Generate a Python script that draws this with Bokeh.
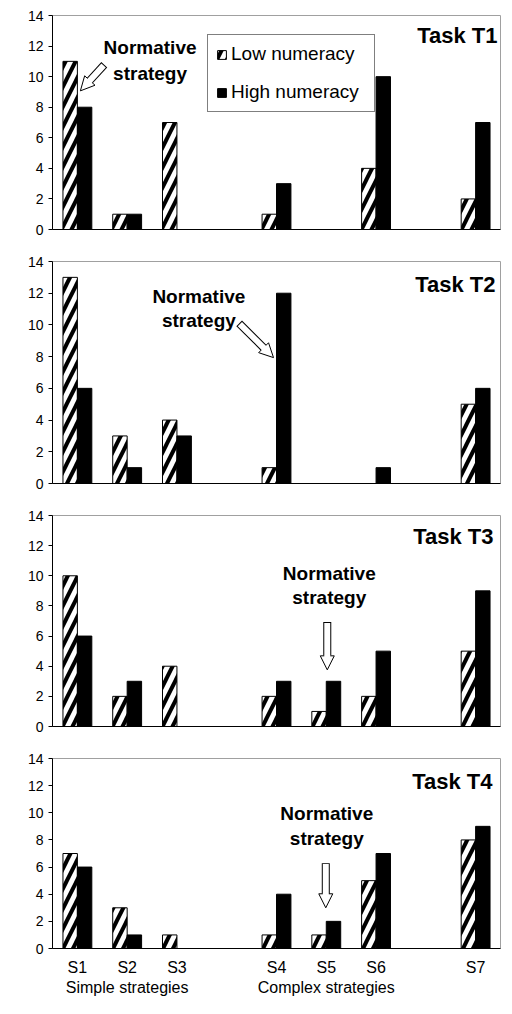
import math
from bokeh.plotting import figure
from bokeh.models import (FactorRange, Range1d, Label, Arrow, NormalHead, Legend,
                          LegendItem, ColumnDataSource, FixedTicker, CategoricalAxis)
from bokeh.layouts import column
from bokeh.transform import dodge
from bokeh.embed import file_html
from bokeh.resources import INLINE

# ---------------- data ----------------
strategies = ["S1", "S2", "S3", "S4", "S5", "S6", "S7"]
slots = ["S1", "S2", "S3", " ", "S4", "S5", "S6", "  ", "S7"]
group_slots = [" ", "Simple strategies", "  ", "   ", "    ", "Complex strategies",
               "     ", "      ", "       "]
tasks = ["Task T1", "Task T2", "Task T3", "Task T4"]
series_names = ["Low numeracy", "High numeracy"]

low_t1 = [11, 1, 7, 1, 0, 4, 2]
high_t1 = [8, 1, 0, 3, 0, 10, 7]
low_t2 = [13, 3, 4, 1, 0, 0, 5]
high_t2 = [6, 1, 3, 12, 0, 1, 6]
low_t3 = [10, 2, 4, 2, 1, 2, 5]
high_t3 = [6, 3, 0, 3, 3, 5, 9]
low_t4 = [7, 3, 1, 1, 1, 5, 8]
high_t4 = [6, 1, 0, 4, 2, 7, 9]

lows = [low_t1, low_t2, low_t3, low_t4]
highs = [high_t1, high_t2, high_t3, high_t4]

y_ticks = [0, 2, 4, 6, 8, 10, 12, 14]
note_lines = ["Normative", "strategy"]

# ---------------- layout / styling ----------------
FONT = "Liberation Sans"
W = 504
# (border_left, border_right, border_top, frame_height, border_bottom)
geom = [
    (43, 1, 15, 214, 16),
    (45, 1, 16, 222, 16),
    (42, 2, 16, 211, 16),
    (52, 4, 16, 194, 46),
]
note_text_pos = [(1.96, 11.9, 10.2), (2.94, 11.8, 10.25), (5.56, 10.17, 8.59), (5.51, 9.93, 8.14)]
arrow_pos = [((1.04, 10.78), (0.56, 9.07)),
             ((3.75, 10.1), (4.44, 7.94)),
             ((5.52, 6.94), (5.52, 3.76)),
             ((5.49, 6.29), (5.49, 3.0))]
title_off = [(-3, -7), (-5, -10), (-7, -8), (-8, -10)]

BAR_W = 0.29


def block_arrow(p, x0, y0, x1, y1, kx, ky, head=14, shaft=8):
    dxp = (x1 - x0) * kx
    dyp = (y1 - y0) * ky
    L = math.hypot(dxp, dyp)
    ux, uy = dxp / L, dyp / L
    bx = x1 - ux * head / kx
    by = y1 - uy * head / ky
    p.add_layout(Arrow(end=None, x_start=x0, y_start=y0, x_end=bx, y_end=by,
                       line_width=shaft, line_color="black"))
    p.add_layout(Arrow(end=NormalHead(size=head, fill_color="white", line_color="black",
                                      line_width=1),
                       x_start=bx, y_start=by, x_end=x1, y_end=y1, line_alpha=0))
    sx = x0 + ux * 1.0 / kx
    sy = y0 + uy * 1.0 / ky
    ex = bx + ux * 1.5 / kx
    ey = by + uy * 1.5 / ky
    p.add_layout(Arrow(end=None, x_start=sx, y_start=sy, x_end=ex, y_end=ey,
                       line_width=shaft - 2, line_color="white"))


figs = []
for i in range(4):
    bl, br, bt, fh, bb = geom[i]
    H = bt + fh + bb
    last = (i == 3)
    p = figure(width=W, height=H, output_backend="svg", toolbar_location=None,
               x_range=FactorRange(factors=slots, range_padding=0, factor_padding=0),
               y_range=Range1d(0, 14),
               min_border_left=bl, min_border_right=br, min_border_top=bt,
               min_border_bottom=bb)
    p.outline_line_color = "#a0a0a0"
    p.xgrid.visible = False
    p.ygrid.visible = False
    p.background_fill_color = "white"
    p.border_fill_color = "white"

    src = ColumnDataSource(dict(s=strategies, low=lows[i], high=highs[i]))
    r_low = p.vbar(x=dodge("s", -BAR_W / 2, range=p.x_range), top="low", bottom=0,
                   width=BAR_W, source=src, fill_color="white", line_color="black",
                   line_width=1, hatch_pattern="/", hatch_color="black",
                   hatch_weight=4, hatch_scale=20)
    r_high = p.vbar(x=dodge("s", BAR_W / 2, range=p.x_range), top="high", bottom=0,
                    width=BAR_W, source=src, fill_color="black", line_color="black",
                    line_width=1)

    ya = p.yaxis[0]
    ya.ticker = FixedTicker(ticks=y_ticks)
    ya.axis_line_color = "black"
    ya.major_tick_line_color = "black"
    ya.major_tick_out = 4
    ya.major_tick_in = 0
    ya.minor_tick_line_color = None
    ya.major_label_text_font = FONT
    ya.major_label_text_font_size = "14px"
    ya.major_label_text_color = "black"
    ya.major_label_standoff = 5

    xa = p.xaxis[0]
    xa.axis_line_color = "black"
    xa.major_tick_line_color = None
    xa.major_tick_out = 0
    xa.major_tick_in = 0
    xa.minor_tick_line_color = None
    if last:
        xa.major_label_text_font = FONT
        xa.major_label_text_font_size = "16px"
        xa.major_label_text_color = "black"
        xa.major_label_standoff = 10
        p.extra_x_ranges = {"grp": FactorRange(factors=group_slots, range_padding=0,
                                               factor_padding=0)}
        gax = CategoricalAxis(x_range_name="grp")
        gax.axis_line_color = None
        gax.major_tick_line_color = None
        gax.minor_tick_line_color = None
        gax.major_tick_out = 0
        gax.major_tick_in = 0
        gax.major_label_standoff = 0
        gax.major_label_text_font = FONT
        gax.major_label_text_font_size = "16px"
        gax.major_label_text_color = "black"
        p.add_layout(gax, "below")
    else:
        xa.major_label_text_font_size = "1px"
        xa.major_label_text_color = None
        xa.major_label_standoff = 0

    ox, oy = title_off[i]
    p.add_layout(Label(x=9, y=14, x_offset=ox, y_offset=oy, text=tasks[i],
                       text_align="right", text_baseline="top", text_font=FONT,
                       text_font_style="bold", text_font_size="22px", text_color="black"))

    nx, ny1, ny2 = note_text_pos[i]
    for t, yy in zip(note_lines, (ny1, ny2)):
        p.add_layout(Label(x=nx, y=yy, text=t, text_align="center",
                           text_baseline="middle", text_font=FONT,
                           text_font_style="bold", text_font_size="19px",
                           text_color="black"))
    fw = W - bl - br
    kx = fw / 9.0
    ky = fh / 14.0
    (ax0, ay0), (ax1, ay1) = arrow_pos[i]
    block_arrow(p, ax0, ay0, ax1, ay1, kx, ky, head=14, shaft=8)

    if i == 0:
        leg = Legend(items=[LegendItem(label=series_names[0], renderers=[r_low]),
                            LegendItem(label=series_names[1], renderers=[r_high])],
                     location=(155, 117), orientation="vertical")
        leg.border_line_color = "black"
        leg.border_line_width = 1
        leg.background_fill_color = "white"
        leg.background_fill_alpha = 1
        leg.label_text_font = FONT
        leg.label_text_font_size = "19px"
        leg.label_text_color = "black"
        leg.glyph_width = 11
        leg.glyph_height = 11
        leg.label_standoff = 4
        leg.label_height = 20
        leg.label_width = 135
        leg.padding = 8
        leg.spacing = 16
        leg.margin = 0
        p.add_layout(leg, "center")

    figs.append(p)

layout = column(*figs, spacing=0)
open("out.html", "w").write(file_html(layout, INLINE))
